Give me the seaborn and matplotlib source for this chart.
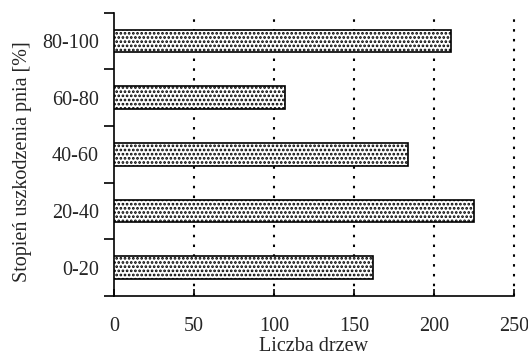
import numpy as np
import pandas as pd
import matplotlib
matplotlib.use("Agg")
import matplotlib.pyplot as plt
import seaborn as sns

# damage classes (top to bottom) and tree counts
categories = ["80-100", "60-80", "40-60", "20-40", "0-20"]
counts = [211, 107, 184, 225, 162]
x_ticks = [0, 50, 100, 150, 200, 250]

df = pd.DataFrame({"klasa": categories, "liczba": counts})

sns.set_style("white")
plt.rcParams["font.family"] = ["Liberation Serif", "DejaVu Serif"]
plt.rcParams["hatch.linewidth"] = 1.3

fig = plt.figure(figsize=(5.28, 3.57), dpi=100)
ax = fig.add_axes([0.216, 0.171, 0.757, 0.793])

sns.barplot(data=df, x="liczba", y="klasa", order=categories, orient="h",
            color="white", edgecolor="black", linewidth=1.2, width=0.4,
            hatch="....", ax=ax, zorder=3)

ax.set_xlim(0, 250)
ax.set_ylim(len(categories) - 0.5, -0.5)
ax.set_xticks(x_ticks)
for v in x_ticks[1:]:
    ax.axvline(v, color="black", linestyle=(0, (1.2, 3.5)), linewidth=1.5,
               zorder=1, clip_on=False)

ax.set_yticks(np.arange(-0.5, len(categories)), minor=True)
ax.tick_params(axis="y", which="minor", left=True, length=7, width=1.2,
               direction="out", color="black")
ax.tick_params(axis="y", which="major", left=False, length=0, pad=11, labelsize=14.5)
ax.tick_params(axis="x", which="major", bottom=True, length=5, width=1.2,
               direction="in", pad=15, labelsize=14.5, color="black")

for s in ["top", "right"]:
    ax.spines[s].set_visible(False)
for s in ["left", "bottom"]:
    ax.spines[s].set_color("black")
    ax.spines[s].set_linewidth(1.2)

ax.set_xlabel("Liczba drzew", fontsize=14.5, labelpad=1)
ax.set_ylabel("Stopień uszkodzenia pnia [%]", fontsize=14.5)
ax.yaxis.set_label_coords(-0.205, 0.475)

fig.savefig("out.png", dpi=100)
